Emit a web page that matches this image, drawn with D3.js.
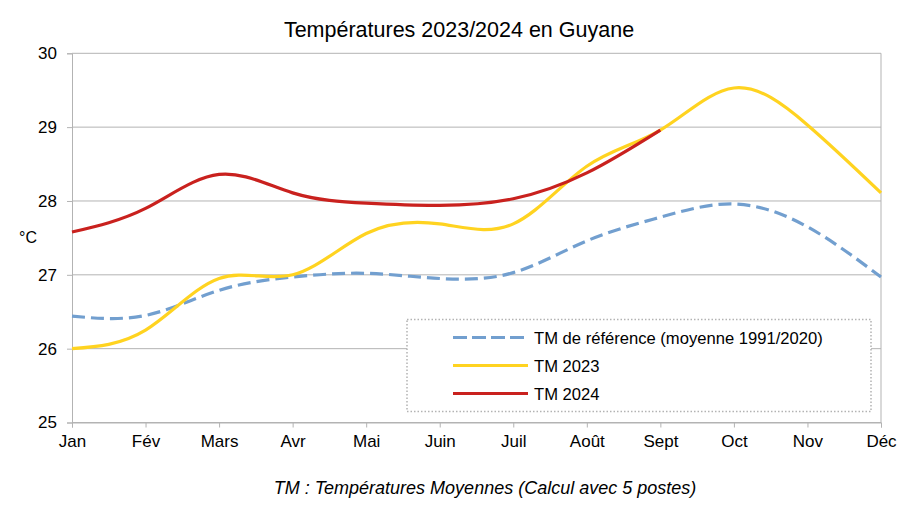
<!DOCTYPE html>
<html><head><meta charset="utf-8">
<script src="https://cdn.jsdelivr.net/npm/d3@7"></script>
<style>body{margin:0;background:#fff}svg{display:block;font-family:"Liberation Sans",Arial,sans-serif}</style>
</head><body><svg id="c" width="918" height="516"></svg>
<script>
const months = ["Jan","Fév","Mars","Avr","Mai","Juin","Juil","Août","Sept","Oct","Nov","Déc"];
const tmRef  = [26.44,26.45,26.79,26.97,27.02,26.95,27.03,27.46,27.78,27.96,27.65,26.97];
const tm2023 = [26.00,26.25,26.95,27.00,27.56,27.69,27.69,28.47,28.96,29.53,29.03,28.11];
const tm2024 = [27.58,27.90,28.36,28.11,27.97,27.94,28.03,28.38,28.96];
const yTicks = [25,26,27,28,29,30];
const seriesNames = ["TM de référence (moyenne 1991/2020)","TM 2023","TM 2024"];
const colors = ["#729fcf","#ffd320","#c9211e"];

const svg = d3.select("#c");
const L=72, R=881, T=53.3, B=422.5;
const x = d3.scalePoint().domain(months).range([L,R]);
const y = d3.scaleLinear().domain([25,30]).range([B,T]);

// gridlines
svg.append("g").selectAll("line").data(yTicks).join("line")
  .attr("x1",L).attr("x2",R).attr("y1",d=>y(d)).attr("y2",d=>y(d))
  .attr("stroke","#b3b3b3").attr("stroke-width",1);
// right border
svg.append("line").attr("x1",R).attr("x2",R).attr("y1",T).attr("y2",B).attr("stroke","#b3b3b3");

// axes
const yAxis = svg.append("g").attr("transform",`translate(${L},0)`)
  .call(d3.axisLeft(y).tickValues(yTicks).tickSize(5).tickPadding(5).tickFormat(d3.format("d")));
const xAxis = svg.append("g").attr("transform",`translate(0,${B})`)
  .call(d3.axisBottom(x).tickSize(5).tickPadding(7));
[yAxis,xAxis].forEach(a=>{
  a.select(".domain").attr("stroke","#b3b3b3");
  a.selectAll(".tick line").attr("stroke","#b3b3b3");
  a.selectAll("text").attr("font-size",17).attr("fill","#000").attr("font-family","Liberation Sans, Arial, sans-serif");
});
yAxis.selectAll("text").attr("dx","-5");

// lines
const line = d3.line().x((d,i)=>x(months[i])).y(d=>y(d)).curve(d3.curveNatural);
const data = [tmRef,tm2023,tm2024];
data.forEach((s,i)=>{
  svg.append("path").attr("d",line(s)).attr("fill","none")
    .attr("stroke",colors[i]).attr("stroke-width",3.2)
    .attr("stroke-linejoin","round")
    .attr("stroke-dasharray", i===0 ? "13,6" : null);
});

// title
svg.append("text").attr("x",459).attr("y",37).attr("text-anchor","middle")
  .attr("font-size",21.5).text("Températures 2023/2024 en Guyane");
// y unit
svg.append("text").attr("x",19).attr("y",243).attr("font-size",16).text("°C");
// caption
svg.append("text").attr("x",485).attr("y",494).attr("text-anchor","middle")
  .attr("font-size",18).attr("font-style","italic").text("TM : Températures Moyennes (Calcul avec 5 postes)");

// legend
const lg = svg.append("g");
lg.append("rect").attr("x",407).attr("y",319.5).attr("width",464).attr("height",92)
  .attr("fill","#fff").attr("stroke","#b3b3b3").attr("stroke-width",1.5).attr("stroke-dasharray","1.5,2");
seriesNames.forEach((n,i)=>{
  const yy = 337.5 + i*28;
  lg.append("line").attr("x1",453).attr("x2",528).attr("y1",yy).attr("y2",yy)
    .attr("stroke",colors[i]).attr("stroke-width",3.2).attr("stroke-dasharray", i===0?"14,5":null);
  lg.append("text").attr("x",534).attr("y",yy+6).attr("font-size",16.6).text(n);
});
</script></body></html>
